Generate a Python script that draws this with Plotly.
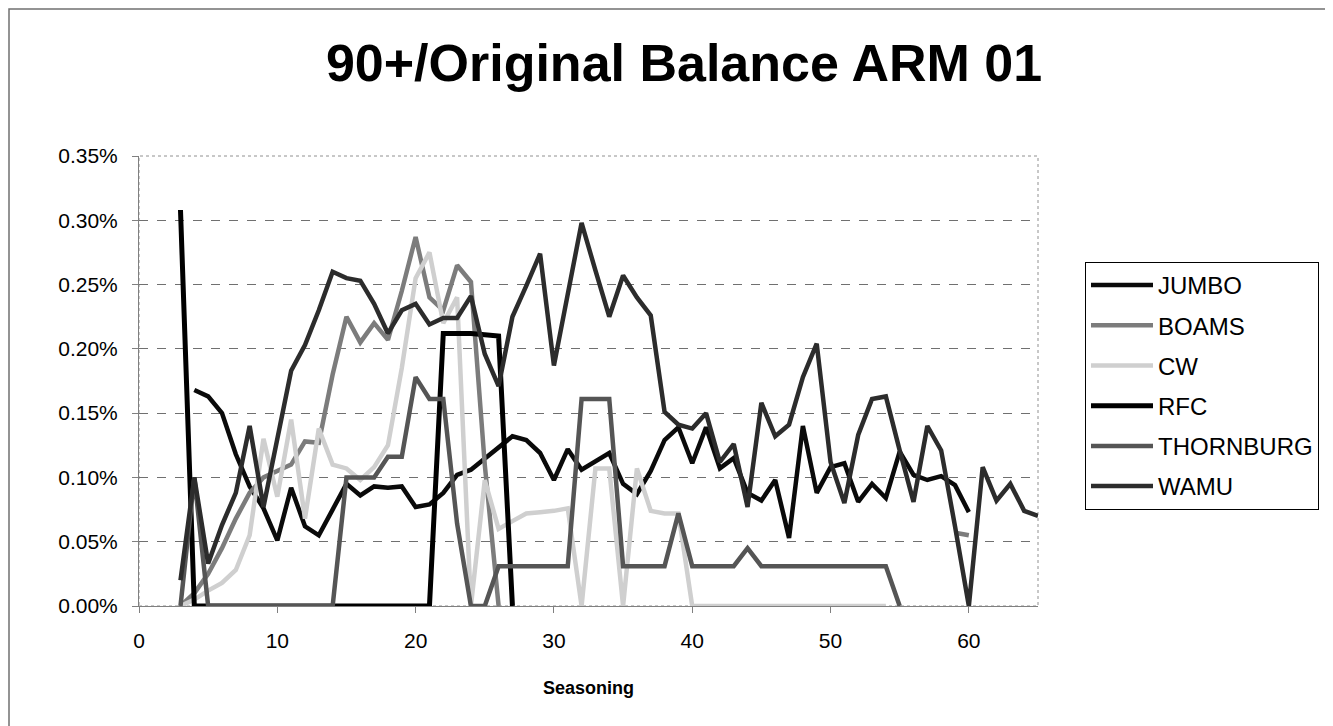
import plotly.graph_objects as go

# ---------------- data (values in percent) ----------------
jumbo_x = list(range(4, 61))
jumbo_y = [0.168, 0.163, 0.150, 0.118, 0.093, 0.076, 0.051, 0.092, 0.062, 0.055,
           0.075, 0.095, 0.086, 0.093, 0.092, 0.093, 0.077, 0.079, 0.088, 0.102,
           0.106, 0.115, 0.124, 0.132, 0.129, 0.119, 0.098, 0.122, 0.106, 0.113,
           0.119, 0.095, 0.087, 0.105, 0.129, 0.139, 0.111, 0.139, 0.107, 0.115,
           0.088, 0.082, 0.098, 0.053, 0.140, 0.088, 0.108, 0.111, 0.081, 0.095,
           0.084, 0.120, 0.102, 0.098, 0.101, 0.094, 0.073]

boams_x = list(range(3, 61))
boams_y = [0.000, 0.010, 0.025, 0.045, 0.068, 0.088, 0.100, 0.105, 0.110, 0.128,
           0.127, 0.180, 0.225, 0.205, 0.220, 0.207, 0.245, 0.287, 0.240, 0.230,
           0.265, 0.252, 0.110, 0.000] + [None] * 32 + [0.057, 0.055]

cw_x = list(range(3, 55))
cw_y = [0.000, 0.005, 0.012, 0.018, 0.028, 0.055, 0.130, 0.085, 0.145, 0.068,
        0.138, 0.110, 0.107, 0.098, 0.108, 0.125, 0.185, 0.255, 0.275, 0.220,
        0.240, 0.000, 0.098, 0.060, 0.066, 0.072, 0.073, 0.074, 0.076, 0.000,
        0.107, 0.107, 0.000, 0.107, 0.074, 0.072, 0.072, 0.000, 0.000, 0.000,
        0.000, 0.000, 0.000, 0.000, 0.000, 0.000, 0.000, 0.000, 0.000, 0.000,
        0.000, 0.000]

rfc_x = list(range(3, 28))
rfc_y = [0.308, 0.000, 0.000, 0.000, 0.000, 0.000, 0.000, 0.000, 0.000, 0.000,
         0.000, 0.000, 0.000, 0.000, 0.000, 0.000, 0.000, 0.000, 0.000, 0.212,
         0.212, 0.212, 0.211, 0.210, 0.000]

thornburg_x = list(range(3, 56))
thornburg_y = [0.000, 0.100, 0.000, 0.000, 0.000, 0.000, 0.000, 0.000, 0.000, 0.000,
               0.000, 0.000, 0.100, 0.100, 0.100, 0.116, 0.116, 0.178, 0.161, 0.161,
               0.064, 0.000, 0.000, 0.031, 0.031, 0.031, 0.031, 0.031, 0.031, 0.161,
               0.161, 0.161, 0.031, 0.031, 0.031, 0.031, 0.072, 0.031, 0.031, 0.031,
               0.031, 0.045, 0.031, 0.031, 0.031, 0.031, 0.031, 0.031, 0.031, 0.031,
               0.031, 0.031, 0.000]

wamu_x = list(range(3, 66))
wamu_y = [0.020, 0.100, 0.033, 0.063, 0.088, 0.140, 0.077, 0.130, 0.183, 0.203,
          0.230, 0.260, 0.255, 0.253, 0.235, 0.212, 0.230, 0.235, 0.219, 0.224,
          0.224, 0.241, 0.196, 0.171, 0.225, 0.249, 0.274, 0.187, 0.243, 0.298,
          0.261, 0.225, 0.257, 0.240, 0.226, 0.151, 0.141, 0.138, 0.150, 0.112,
          0.126, 0.077, 0.158, 0.132, 0.141, 0.178, 0.204, 0.112, 0.080, 0.133,
          0.161, 0.163, 0.121, 0.081, 0.140, 0.121, 0.062, 0.000, 0.108, 0.082,
          0.095, 0.074, 0.070]

series_names = ["JUMBO", "BOAMS", "CW", "RFC", "THORNBURG", "WAMU"]
x_ticks = [0, 10, 20, 30, 40, 50, 60]
y_ticks = [0.00, 0.05, 0.10, 0.15, 0.20, 0.25, 0.30, 0.35]

# ---------------- styling ----------------
styles = {
    "JUMBO": dict(color="#0a0a0a", width=4.5),
    "BOAMS": dict(color="#7c7c7c", width=4.5),
    "CW": dict(color="#cfcfcf", width=4.5),
    "RFC": dict(color="#000000", width=5),
    "THORNBURG": dict(color="#555555", width=4.5),
    "WAMU": dict(color="#2c2c2c", width=4.5),
}
data = {
    "JUMBO": (jumbo_x, jumbo_y),
    "BOAMS": (boams_x, boams_y),
    "CW": (cw_x, cw_y),
    "RFC": (rfc_x, rfc_y),
    "THORNBURG": (thornburg_x, thornburg_y),
    "WAMU": (wamu_x, wamu_y),
}

FONT = "Liberation Sans, Arial, sans-serif"

fig = go.Figure()
for name in series_names:
    xs, ys = data[name]
    fig.add_trace(go.Scatter(
        x=xs, y=ys, mode="lines", name=name, legendgroup=name,
        line=dict(color=styles[name]["color"], width=styles[name]["width"]),
        connectgaps=False,
    ))

# the page body adds an 8px offset; work in screen pixels and subtract it
OFF = 8
W, H = 1333 - OFF, 726 - OFF
L, T = 139 - OFF, 156 - OFF
R = W - (1038 - OFF)
B = H - (606 - OFF)
pw, ph = W - L - R, H - T - B

def px_to_paper_x(px):
    return (px - OFF - L) / pw

def px_to_paper_y(py):
    return (H - B - (py - OFF)) / ph

fig.update_layout(
    width=W, height=H,
    margin=dict(l=L, r=R, t=T, b=B, pad=0),
    paper_bgcolor="white", plot_bgcolor="white",
    font=dict(family=FONT, color="black"),
    title=dict(text="<b>90+/Original Balance ARM 01</b>",
               font=dict(size=52, family=FONT, color="black"),
               x=(684 - OFF) / W, xanchor="center",
               y=1 - (63 - OFF) / H, yanchor="middle"),
    showlegend=True,
    legend=dict(x=px_to_paper_x(1085), y=px_to_paper_y(262), xanchor="left", yanchor="top",
                bordercolor="#000000", borderwidth=1, bgcolor="white",
                font=dict(size=24, family=FONT, color="black"),
                tracegroupgap=6, itemwidth=62),
    xaxis=dict(range=[0, 65], tickvals=x_ticks, ticks="outside", ticklen=6,
               tickcolor="#808080", showline=True, linecolor="#808080", linewidth=1,
               showgrid=False, zeroline=False,
               tickfont=dict(size=21, family=FONT), ticklabelstandoff=10,
               title=dict(text="<b>Seasoning</b>", font=dict(size=18, family=FONT),
                          standoff=30)),
    yaxis=dict(range=[0, 0.35], tickvals=y_ticks,
               ticktext=[f"{v:.2f}%" for v in y_ticks],
               ticks="outside", ticklen=6, tickcolor="#808080",
               showline=True, linecolor="#808080", linewidth=1,
               showgrid=True, gridcolor="#707070", griddash="dash", gridwidth=1,
               zeroline=False, tickfont=dict(size=21, family=FONT),
               ticklabelstandoff=10),
    shapes=[
        # plot area border (dotted)
        dict(type="rect", xref="paper", yref="paper", x0=0, y0=0, x1=1, y1=1,
             line=dict(color="#909090", width=1, dash="dot"), layer="below"),
        # chart area border
        dict(type="rect", xref="paper", yref="paper",
             x0=px_to_paper_x(9), y0=px_to_paper_y(760),
             x1=px_to_paper_x(1360), y1=px_to_paper_y(9),
             line=dict(color="#707070", width=1.5)),
    ],
)

fig.write_html("out.html")
